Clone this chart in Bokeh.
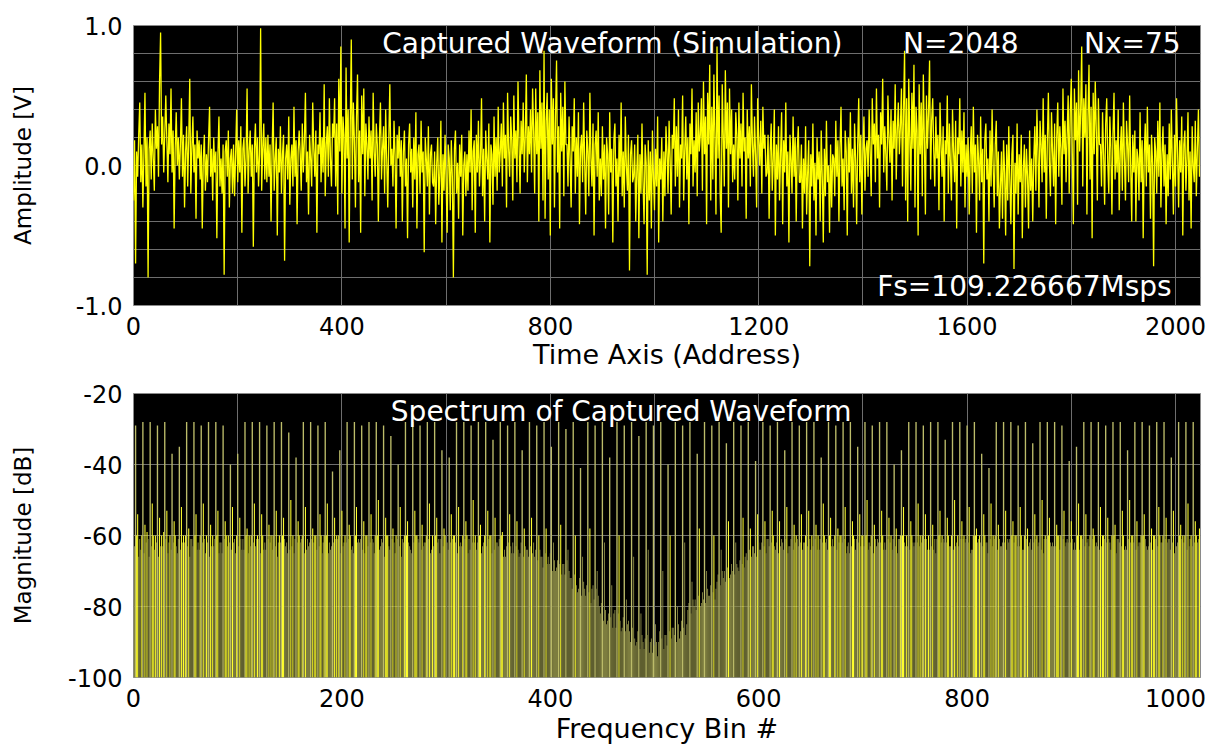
from bokeh.plotting import figure
from bokeh.layouts import column
from bokeh.models import Range1d, FixedTicker, Label, ColumnDataSource
from bokeh.embed import file_html
from bokeh.resources import INLINE

# ---------------- data ----------------
# captured waveform, amplitude in 1/100 V, one value every 2 addresses (rows of 64 addresses)
wave_rows = [
    [-25, 18, -70, 10, -8, 22, 45, -12, 15, -30, 8, 52, -15, 20, -80, 12, 25, -10, 30, 5, -18, 40, 12, 28, -8, 60, 95, 15, 35, -5, 22, 50],
    [18, -12, 30, 8, 55, -5, 25, -45, 12, 38, 0, 20, -10, 15, 48, -8, 22, -30, 10, 28, -15, 18, 62, -20, 12, 35, -5, 15, -38, 25, 5, 18],
    [-10, 15, -45, 5, 22, -18, 8, -12, 18, 42, -8, 12, -25, 20, -5, 10, -52, 8, 35, -15, 5, -20, 15, -78, 10, 18, -8, 25, -30, 5, 12, -20],
    [15, -22, 8, 40, -12, 18, -5, 28, -48, 12, 20, -15, 5, 55, -20, 10, 25, -8, 15, -58, 12, 30, -5, 20, -15, 8, 98, -18, 12, 30, -10, 20],
    [-12, 22, -8, 15, -40, 10, 45, -18, 5, 20, -50, 12, -5, 28, -20, 8, 22, -68, 5, 15, -10, 35, -28, 5, 15, -15, 42, -8, 18, -42, 10, 25],
    [8, -18, 30, -5, 18, 52, -12, 10, -35, 22, 5, -15, 45, 12, -8, 25, -48, 15, 8, 38, -12, 20, -5, 58, -22, 15, 28, -8, 48, 5, -15, 30],
    [20, 48, -15, 30, -35, 62, 10, 85, -20, 35, 22, -45, 70, 5, 40, -55, 28, 90, -10, 45, 18, -30, 35, 65, -12, 25, -48, 50, 8, 55, -22, 30],
    [15, -10, 35, 5, 25, -25, 52, 10, -8, 30, 15, -40, 20, 45, -10, 12, 28, -20, 40, 5, -30, 18, 58, 0, 12, -15, 32, 8, -45, 22, 5, 28],
    [-8, 18, -40, 10, 25, -15, 5, -52, 15, 30, -5, 12, -30, 20, -10, 38, -45, 8, 15, -20, 32, -5, 10, -62, 20, 5, -15, 28, -35, 8, 15, -12],
    [-15, 10, -42, 2, 20, -28, -5, 32, -55, 8, -18, 22, -10, -48, 15, 5, -32, 18, -8, -80, 12, 25, -20, 2, -38, 15, -8, 22, -50, 0, 10, -22],
    [8, -18, 25, -5, 40, -32, 10, 18, -48, 22, -5, 32, -15, 5, 48, -22, 12, -40, 25, 5, -10, 30, -55, 15, 8, -28, 35, -8, 20, -18, 42, -5],
    [10, 30, -15, 45, 5, 22, -30, 52, 12, -8, 35, 18, -25, 50, 5, 25, -12, 60, 15, -20, 32, 8, 45, -5, 22, 65, -12, 28, 8, 40, -5, 55],
    [25, -20, 55, 8, 38, -40, 68, 12, 45, -25, 82, -38, 32, 52, -10, 40, -50, 62, 15, 48, -30, 35, 75, -5, 28, -45, 52, 10, 42, -22, 60, 15],
    [15, -15, 35, 5, -30, 28, 10, 48, -20, 20, -8, 38, -42, 12, 22, -12, 45, 2, -35, 25, 10, -22, 52, 5, -15, 30, -50, 15, 25, -8, 38, -25],
    [5, -22, 28, -10, 15, -45, 20, 8, -35, 38, -5, 12, -55, 18, 30, -15, 5, -40, 22, -8, 45, -22, 10, -30, 35, 0, -18, 22, -75, 8, 18, -12],
    [-8, 15, -40, -5, 22, -52, 8, -20, 30, -12, -42, 15, 2, -78, 18, -25, 10, -45, 25, -8, -32, 12, -15, 35, -55, 5, -10, 20, -40, 10, -22, 28],
    [10, -20, 32, 5, -35, 22, 12, 48, -15, 28, -8, 40, -30, 15, 5, 50, -25, 10, 35, -10, 20, -42, 30, 8, 55, -15, 18, -5, 38, -22, 45, 10],
    [22, 48, -18, 60, 8, 35, -42, 52, 15, 72, -25, 42, -10, 65, 20, -35, 85, 5, 50, -20, -48, 58, 22, -15, 68, 12, 45, -30, 55, 8, 40, -12],
    [15, -10, 38, 22, -25, 45, 5, 30, -15, 52, 10, 20, -38, 40, 5, 28, -15, 58, 15, -8, 35, 8, -30, 48, 18, 0, 32, -20, 42, 12, 22, -8],
    [-5, 22, -38, 10, 30, -18, 5, 40, -50, 15, -10, 28, -25, 8, 38, -42, 18, -5, 45, -15, 10, -55, 22, 5, -20, 35, -8, 20, -40, 12, 28, -12],
    [-12, 15, -45, 5, -20, 28, -35, -5, 18, -72, 8, -15, 30, -25, 2, -50, 20, -10, 10, -40, 25, -8, -55, 12, -22, 32, -12, 0, -48, 15, -30, 8],
    [5, -22, 32, -8, 18, -40, 12, 42, -15, 5, -32, 25, 10, -50, 20, -5, 38, -20, 12, -30, 30, 5, -42, 15, 48, -12, 22, -35, 8, 35, -18, 12],
    [18, -8, 40, 10, -22, 48, 15, 30, -12, 55, 5, 22, -30, 38, 15, 62, -5, 28, 8, -18, 50, 20, 2, 40, -25, 32, 12, 58, -10, 25, 45, 8],
    [28, 55, -15, 40, 82, -25, 48, -40, 62, 20, -18, 52, 12, 72, -30, 42, 25, -50, 58, 8, 45, -22, 65, 18, -35, 50, 12, 38, 75, -10, 32, 48],
    [10, -15, 35, 5, 22, -32, 45, 15, -8, 28, -40, 18, 8, 50, -20, 30, 2, -25, 40, 10, -12, 32, -45, 20, 8, 48, -15, 25, -5, 38, -30, 15],
    [-8, 20, -35, 8, 28, -20, 42, -5, 15, -48, 22, 5, -25, 35, -12, 12, -70, 18, 30, -10, 5, -40, 25, -15, 40, 0, -30, 15, 32, -22, 10, -45],
    [-15, 10, -38, 18, -5, -50, 15, -25, 28, -10, -42, 8, 22, -74, 2, -20, 30, -35, 8, -12, 22, -52, -2, 15, -30, 12, -8, -45, 25, -18, 5, -40],
    [5, 28, -18, 40, 10, -30, 32, 15, -12, 48, -5, 22, -38, 18, 52, 2, -22, 38, 10, -15, 30, -42, 20, 45, -8, 28, 12, -28, 55, 8, 32, -12],
    [22, 50, -20, 38, 62, 8, -42, 55, 18, 45, -28, 68, 10, 40, 85, -15, 48, 20, 58, -35, 35, 72, -10, 42, -52, 52, 8, 60, 25, -25, 48, 15],
    [15, -15, 38, 8, -28, 30, 48, 2, -20, 35, 12, -35, 22, 52, -10, 18, -5, 40, -32, 10, 28, -18, 45, 5, -25, 32, 15, -12, 50, 0, -40, 22],
    [-5, 25, -40, 12, 5, -25, 38, -12, 18, -52, 8, 30, -15, 42, -5, 15, -38, 22, 2, -72, 20, 10, -20, 32, -8, 45, -30, 8, 28, -15, 15, -42],
    [8, -22, 30, -10, 40, 2, -35, 22, -15, 48, 10, -30, 18, -5, 35, -50, 15, 25, -18, 5, 38, -25, 10, -45, 28, 0, -12, 32, -22, 12, 40, -8],
]

# spectrum magnitude in dB per frequency bin (rows of 28 bins)
spec_rows = [
    [-78, -63, -29, -60, -54, -66, -61, -64, -60, -28, -65, -57, -62, -59, -61, -66, -28, -63, -51, -60, -64, -60, -62, -29, -66, -55, -63, -60],
    [-63, -59, -28, -61, -53, -65, -62, -60, -64, -37, -62, -56, -60, -63, -65, -61, -35, -64, -52, -62, -60, -62, -60, -28, -63, -58, -66, -61],
    [-61, -63, -28, -60, -54, -64, -62, -64, -60, -29, -62, -51, -61, -65, -60, -62, -28, -66, -57, -63, -60, -63, -61, -28, -60, -53, -65, -62],
    [-62, -65, -29, -61, -56, -60, -63, -60, -62, -40, -64, -52, -62, -61, -65, -60, -37, -63, -55, -61, -64, -61, -64, -28, -60, -58, -65, -60],
    [-63, -60, -28, -62, -51, -63, -61, -60, -61, -28, -65, -54, -60, -64, -62, -64, -29, -61, -57, -62, -60, -64, -60, -28, -63, -53, -66, -62],
    [-60, -62, -28, -60, -55, -61, -63, -62, -65, -31, -64, -50, -63, -60, -65, -61, -38, -62, -56, -60, -62, -61, -60, -28, -65, -52, -64, -61],
    [-63, -62, -28, -61, -58, -62, -60, -60, -64, -29, -63, -54, -60, -65, -62, -60, -28, -60, -51, -65, -62, -64, -63, -42, -62, -55, -61, -60],
    [-61, -60, -36, -65, -53, -63, -62, -60, -62, -28, -61, -57, -60, -64, -63, -65, -28, -60, -52, -62, -61, -62, -61, -29, -64, -56, -65, -60],
    [-60, -63, -28, -62, -54, -61, -62, -65, -60, -28, -60, -50, -64, -63, -61, -62, -29, -66, -55, -60, -60, -63, -64, -32, -61, -58, -62, -65],
    [-60, -61, -40, -63, -52, -66, -61, -62, -60, -28, -60, -56, -62, -63, -64, -65, -28, -62, -53, -60, -60, -61, -62, -29, -64, -57, -63, -62],
    [-62, -60, -28, -61, -51, -65, -64, -60, -63, -28, -60, -55, -62, -61, -65, -61, -36, -63, -58, -60, -62, -62, -64, -38, -62, -54, -61, -60],
    [-60, -62, -28, -65, -52, -63, -62, -63, -60, -28, -61, -56, -60, -65, -61, -64, -29, -62, -50, -62, -60, -64, -62, -28, -60, -57, -65, -63],
    [-62, -60, -28, -63, -53, -61, -60, -60, -65, -33, -64, -55, -62, -62, -63, -61, -28, -60, -59, -66, -64, -66, -63, -29, -62, -54, -63, -65],
    [-62, -65, -28, -63, -56, -64, -66, -65, -62, -36, -66, -58, -63, -64, -64, -66, -28, -63, -55, -65, -62, -66, -64, -29, -67, -60, -64, -66],
    [-66, -69, -28, -65, -58, -68, -66, -68, -65, -35, -70, -62, -67, -70, -69, -67, -28, -68, -57, -71, -68, -68, -71, -30, -67, -64, -70, -72],
    [-72, -75, -28, -71, -60, -74, -76, -75, -72, -41, -77, -66, -73, -75, -77, -74, -28, -76, -58, -79, -75, -74, -78, -29, -75, -70, -77, -80],
    [-82, -79, -28, -84, -62, -81, -85, -84, -82, -38, -83, -74, -86, -82, -81, -86, -28, -82, -60, -84, -87, -86, -83, -29, -87, -78, -85, -84],
    [-87, -90, -28, -86, -66, -89, -91, -90, -87, -32, -92, -82, -88, -90, -92, -89, -28, -88, -64, -93, -90, -89, -93, -29, -91, -85, -90, -94],
    [-90, -87, -28, -89, -70, -92, -88, -88, -91, -40, -87, -60, -89, -86, -86, -88, -28, -90, -80, -85, -89, -87, -84, -29, -86, -62, -88, -85],
    [-81, -79, -28, -82, -73, -78, -80, -78, -81, -37, -77, -58, -80, -79, -76, -78, -28, -79, -70, -75, -77, -77, -74, -29, -76, -60, -78, -75],
    [-73, -71, -28, -74, -64, -70, -72, -70, -73, -34, -69, -56, -72, -71, -68, -70, -28, -71, -62, -68, -69, -70, -67, -29, -68, -55, -69, -66],
    [-65, -67, -28, -64, -58, -66, -63, -63, -65, -39, -66, -54, -62, -64, -64, -62, -28, -63, -56, -65, -61, -61, -63, -29, -62, -53, -60, -63],
    [-64, -62, -28, -65, -56, -63, -61, -62, -64, -36, -61, -52, -65, -63, -63, -61, -28, -64, -57, -62, -60, -61, -63, -29, -62, -54, -64, -62],
    [-62, -60, -28, -63, -53, -61, -64, -60, -63, -28, -61, -57, -64, -60, -64, -61, -38, -62, -51, -60, -62, -61, -64, -28, -60, -55, -63, -61],
    [-63, -60, -29, -64, -58, -62, -60, -60, -62, -28, -61, -52, -65, -63, -62, -65, -28, -63, -56, -60, -61, -64, -61, -35, -62, -54, -63, -60],
    [-60, -63, -28, -60, -50, -64, -62, -63, -60, -29, -65, -57, -61, -63, -61, -62, -28, -62, -53, -60, -64, -62, -64, -28, -61, -55, -62, -60],
    [-64, -61, -40, -63, -58, -65, -61, -61, -60, -36, -60, -52, -62, -63, -60, -63, -28, -64, -56, -60, -62, -63, -62, -28, -62, -51, -63, -60],
    [-62, -60, -29, -61, -54, -61, -64, -60, -64, -28, -63, -57, -64, -61, -65, -61, -28, -60, -53, -62, -60, -61, -62, -33, -62, -55, -60, -63],
    [-63, -60, -28, -64, -50, -63, -62, -60, -63, -28, -61, -56, -61, -60, -62, -61, -29, -62, -52, -65, -64, -64, -60, -28, -60, -58, -62, -61],
    [-60, -62, -37, -63, -54, -60, -62, -62, -65, -41, -61, -51, -63, -60, -61, -60, -28, -64, -57, -61, -63, -63, -62, -28, -62, -53, -64, -61],
    [-62, -61, -28, -60, -56, -62, -60, -60, -63, -29, -63, -52, -60, -64, -64, -60, -28, -61, -58, -63, -62, -61, -64, -34, -62, -54, -61, -60],
    [-63, -62, -28, -64, -50, -65, -61, -60, -61, -28, -60, -55, -62, -63, -62, -63, -28, -63, -57, -60, -60, -64, -60, -29, -61, -53, -63, -62],
    [-61, -62, -39, -62, -56, -61, -64, -62, -64, -35, -60, -51, -64, -60, -60, -61, -28, -63, -54, -62, -61, -63, -60, -28, -61, -58, -60, -63],
    [-62, -63, -28, -64, -52, -63, -60, -60, -61, -29, -62, -55, -61, -62, -64, -60, -28, -60, -57, -65, -61, -61, -62, -28, -63, -53, -60, -64],
    [-63, -64, -36, -61, -50, -62, -60, -60, -62, -28, -64, -56, -63, -62, -62, -60, -28, -60, -54, -61, -63, -64, -63, -29, -62, -58, -64, -60],
    [-60, -61, -28, -63, -52, -60, -62, -62, -60, -28, -61, -55, -62, -61, -61, -64, -38, -62, -53, -65, -63, -63, -62, -28, -60, -57, -61, -60],
    [-62, -60, -28, -64, -51, -63, -61, -60, -63, -28, -62, -56, -60, -62, -61, -58],
]

time_ticks = [0, 400, 800, 1200, 1600, 2000]
time_grid = [200, 400, 600, 800, 1000, 1200, 1400, 1600, 1800, 2000]
amp_ticks = [-1.0, 0.0, 1.0]
amp_tick_labels = {-1.0: "-1.0", 0.0: "0.0", 1.0: "1.0"}
amp_grid = [-0.8, -0.6, -0.4, -0.2, 0.0, 0.2, 0.4, 0.6, 0.8]
bin_ticks = [0, 200, 400, 600, 800, 1000]
bin_grid = [100, 200, 300, 400, 500, 600, 700, 800, 900, 1000]
db_ticks = [-100, -80, -60, -40, -20]
db_tick_labels = {-100: "-100", -80: "-80", -60: "-60", -40: "-40", -20: "-20"}
db_grid = [-80, -60, -40]

wave_amp = [v / 100 for row in wave_rows for v in row]
wave_addr = [2 * i for i in range(len(wave_amp))]
spec_db = [v for row in spec_rows for v in row]
spec_bin = list(range(len(spec_db)))

FONT = "DejaVu Sans"


def style(p, xgrid, ygrid):
    p.background_fill_color = "black"
    p.border_fill_color = "white"
    p.outline_line_color = "#8a8a8a"
    p.xgrid.ticker = FixedTicker(ticks=xgrid)
    p.ygrid.ticker = FixedTicker(ticks=ygrid)
    for g in (p.xgrid, p.ygrid):
        g.grid_line_color = "#6e6e6e"
        g.grid_line_width = 1
    for ax in (p.xaxis, p.yaxis):
        ax.axis_line_color = None
        ax.major_tick_line_color = None
        ax.minor_tick_line_color = None
        ax.major_label_text_font = FONT
        ax.major_label_text_font_size = "24px"
        ax.major_label_text_color = "black"
        ax.axis_label_text_font = FONT
        ax.axis_label_text_font_style = "normal"
        ax.axis_label_text_color = "black"
        ax.major_label_standoff = 5
    p.xaxis.axis_label_text_font_size = "27px"
    p.yaxis.axis_label_text_font_size = "23px"


# ---------------- waveform ----------------
p1 = figure(width=1213, height=372, output_backend="svg", toolbar_location=None,
            x_range=Range1d(0, 2048), y_range=Range1d(-1, 1),
            min_border_left=133, min_border_right=13, min_border_top=25, min_border_bottom=67)
style(p1, time_grid, amp_grid)
p1.xaxis.ticker = FixedTicker(ticks=time_ticks)
p1.yaxis.ticker = FixedTicker(ticks=amp_ticks)
p1.yaxis.major_label_overrides = amp_tick_labels
p1.xaxis.axis_label = "Time Axis (Address)"
p1.yaxis.axis_label = "Amplitude [V]"
p1.xaxis.axis_label_standoff = 1
p1.yaxis.axis_label_standoff = 37
p1.line(wave_addr, wave_amp, line_color="#ffff00", line_width=1.3)

for txt, x, y in [("Captured Waveform (Simulation)", 919, 0.87),
                  ("N=2048", 1588, 0.87),
                  ("Nx=75", 1917, 0.87),
                  ("Fs=109.226667Msps", 1710, -0.865)]:
    p1.add_layout(Label(x=x, y=y, text=txt, text_color="white", text_font=FONT,
                        text_font_size="28px", text_align="center", text_baseline="middle"))

# ---------------- spectrum ----------------
p2 = figure(width=1213, height=375, output_backend="svg", toolbar_location=None,
            x_range=Range1d(0, 1024), y_range=Range1d(-100, -20),
            min_border_left=133, min_border_right=13, min_border_top=21, min_border_bottom=70)
style(p2, bin_grid, db_grid)
p2.xaxis.ticker = FixedTicker(ticks=bin_ticks)
p2.yaxis.ticker = FixedTicker(ticks=db_ticks)
p2.yaxis.major_label_overrides = db_tick_labels
p2.xaxis.axis_label = "Frequency Bin #"
p2.yaxis.axis_label = "Magnitude [dB]"
p2.xaxis.axis_label_standoff = 3
p2.yaxis.axis_label_standoff = 29

bar_colors = ["#bcbc6a" if v >= -45 else ("#ffff2e" if v >= -60 else "#8e8e48") for v in spec_db]
bar_widths = [1.3 if v >= -45 else (1.0 if v >= -60 else 0.85) for v in spec_db]
src = ColumnDataSource(dict(x=spec_bin, top=spec_db, c=bar_colors, w=bar_widths))
p2.vbar(x="x", top="top", bottom=-100, width="w", fill_color="c", line_color=None, source=src)
p2.add_layout(Label(x=468, y=-25.2, text="Spectrum of Captured Waveform", text_color="white",
                    text_font=FONT, text_font_size="28px", text_align="center", text_baseline="middle"))

layout = column(p1, p2, spacing=0)
open("out.html", "w").write(file_html(layout, INLINE))
